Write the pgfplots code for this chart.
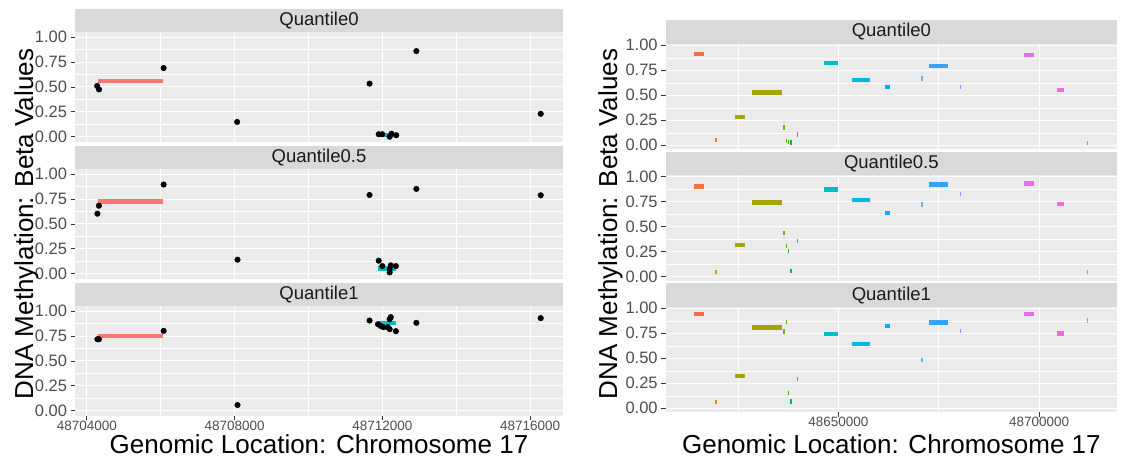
\documentclass[border=0pt]{standalone}
\usepackage{fontspec}
\setmainfont{Liberation Sans}
\usepackage{pgfplots}
\pgfplotsset{compat=1.18}

\definecolor{panelbg}{HTML}{EBEBEB}
\definecolor{stripbg}{HTML}{D9D9D9}
\definecolor{tickc}{HTML}{333333}
\definecolor{labc}{HTML}{4D4D4D}
\definecolor{stripc}{HTML}{1A1A1A}
\definecolor{segred}{HTML}{F8766D}
\definecolor{segcyan}{HTML}{00BFC4}
% right panel groups
\definecolor{c01}{HTML}{F2703F}
\definecolor{c02}{HTML}{D89000}
\definecolor{c03}{HTML}{A3A500}
\definecolor{c04}{HTML}{7CAE00}
\definecolor{c05}{HTML}{5DB300}
\definecolor{c06}{HTML}{39B600}
\definecolor{c07}{HTML}{00BA38}
\definecolor{c08}{HTML}{00C1A3}
\definecolor{c09}{HTML}{00BFC4}
\definecolor{c10}{HTML}{00B8E7}
\definecolor{c11}{HTML}{00ADFA}
\definecolor{c12}{HTML}{5CB6F8}
\definecolor{c13}{HTML}{35A2FF}
\definecolor{c14}{HTML}{9590FF}
\definecolor{c15}{HTML}{E76BF3}
\definecolor{c16}{HTML}{F564E3}
\definecolor{c17}{HTML}{FF64B0}

\pgfplotsset{
  facet/.style={
    scale only axis, anchor=south west,
    axis background/.style={fill=panelbg},
    axis line style={draw=none},
    grid=both,
    major grid style={white, line width=1.1pt},
    minor grid style={white, line width=0.55pt},
    tick align=outside, major tick length=4.5pt, minor tick length=0pt,
    tick style={tickc, line width=0.8pt},
    xtick pos=bottom, ytick pos=left,
    scaled x ticks=false, scaled y ticks=false,
    ytick={0,0.25,0.5,0.75,1},
    yticklabels={0.00,0.25,0.50,0.75,1.00},
    minor ytick={0.125,0.375,0.625,0.875},
    yticklabel style={font=\fontsize{16.5}{16.5}\selectfont, text=labc},
    xticklabel style={font=\fontsize{13.5}{13.5}\selectfont, text=labc, inner sep=0.5pt},
  },
  % left panel: x is position minus 48700000
  leftp/.style={facet, width=488pt, height=110pt,
    xmin=3680, xmax=16890, ymin=-0.053, ymax=1.052,
    xtick={4000,8000,12000,16000}, minor xtick={6000,10000,14000},
    xticklabels={48704000,48708000,48712000,48716000}},
  % right panel: x is position minus 48600000
  rightp/.style={facet, width=451.3pt, height=105.5pt,
    xmin=7000, xmax=119400, ymin=-0.04, ymax=1.015,
    xtick={50000,100000}, minor xtick={25000,75000},
    xticklabels={48650000,48700000}},
  upper/.style={xticklabels={}, xtick style={draw=none}},
  dots/.style={only marks, mark=*, mark size=2.8pt, black},
}
\newcommand\seg[4]{\addplot[#1, line width=4.3pt] coordinates {(#2,#4) (#3,#4)};}
\newcommand\strip[5]{%
  \fill[stripbg] (#1,#3) rectangle (#2,#4);
  \node[text=stripc, font=\fontsize{18.5}{18.5}\selectfont] at ({(#1+#2)/2},{(#3+#4)/2}) {#5};}

\begin{document}
\begin{tikzpicture}[x=1pt,y=1pt]
\useasboundingbox (0,0) rectangle (1126,457);

% ---------- left panel ----------
\begin{axis}[leftp, upper, at={(75pt,315pt)}]
\addplot[dots] coordinates {(4280,0.51) (4330,0.475) (6079,0.69) (8069,0.148)
  (11653,0.533) (12921,0.86) (16287,0.23) (11901,0.025) (11998,0.025)
  (12198,0.0) (12248,0.03) (12376,0.015)};
\addplot[segred, line width=4.4pt] coordinates {(4307,0.56) (6069,0.56)};
\addplot[segcyan, line width=4.4pt] coordinates {(11881,0.02) (12376,0.02)};
\end{axis}

\begin{axis}[leftp, upper, at={(75pt,178pt)}]
\addplot[dots] coordinates {(4287,0.603) (4327,0.683) (6079,0.896) (8079,0.141)
  (11653,0.791) (12921,0.852) (16287,0.788) (11901,0.131) (11998,0.077)
  (12198,0.013) (12228,0.084) (12366,0.077) (12198,0.044)};
\addplot[segred, line width=4.4pt] coordinates {(4307,0.727) (6069,0.727)};
\addplot[segcyan, line width=4.4pt] coordinates {(11881,0.054) (12376,0.054)};
\end{axis}

\begin{axis}[leftp, at={(75pt,41pt)}]
\addplot[dots] coordinates {(4287,0.718) (4327,0.718) (6079,0.802) (8079,0.057)
  (11653,0.906) (11881,0.869) (11950,0.852) (12030,0.839) (12148,0.839)
  (12198,0.919) (12228,0.94) (12198,0.819) (12366,0.799) (12921,0.883)
  (16287,0.93)};
\addplot[segred, line width=4.4pt] coordinates {(4307,0.752) (6069,0.752)};
\addplot[segcyan, line width=4.4pt] coordinates {(11901,0.879) (12376,0.879)};
\end{axis}

\strip{75}{563}{425}{448}{Quantile0}
\strip{75}{563}{288}{311}{Quantile0.5}
\strip{75}{563}{151}{174}{Quantile1}

% ---------- right panel ----------
\begin{axis}[rightp, upper, at={(665.7pt,307.7pt)}]
\seg{c01}{14125}{16434}{0.913}
\seg{c02}{19300}{19800}{0.053}
\seg{c03}{24248}{26646}{0.28}
\seg{c03}{28510}{35881}{0.527}
\seg{c04}{36300}{36700}{0.177}
\seg{c05}{36850}{37200}{0.045}
\seg{c06}{37350}{37800}{0.035}
\seg{c07}{38000}{38550}{0.027}
\seg{c08}{39600}{39950}{0.107}
\seg{c09}{46359}{50000}{0.823}
\seg{c10}{53286}{57992}{0.65}
\seg{c11}{61544}{62787}{0.583}
\seg{c12}{70700}{71050}{0.667}
\seg{c13}{72466}{77350}{0.79}
\seg{c14}{80350}{80550}{0.583}
\seg{c15}{96176}{98662}{0.9}
\seg{c16}{104346}{106122}{0.553}
\seg{c17}{111850}{112250}{0.02}
\end{axis}

\begin{axis}[rightp, upper, at={(665.7pt,176.2pt)}]
\seg{c01}{14125}{16434}{0.903}
\seg{c02}{19300}{19800}{0.047}
\seg{c03}{24248}{26646}{0.317}
\seg{c03}{28510}{35881}{0.743}
\seg{c04}{36300}{36700}{0.44}
\seg{c05}{36850}{37200}{0.307}
\seg{c06}{37350}{37800}{0.26}
\seg{c07}{38000}{38550}{0.06}
\seg{c08}{39600}{39950}{0.357}
\seg{c09}{46359}{50000}{0.873}
\seg{c10}{53286}{57992}{0.767}
\seg{c11}{61544}{62787}{0.64}
\seg{c12}{70700}{71050}{0.723}
\seg{c13}{72466}{77350}{0.923}
\seg{c14}{80350}{80550}{0.83}
\seg{c15}{96176}{98662}{0.933}
\seg{c16}{104346}{106122}{0.727}
\seg{c17}{111850}{112250}{0.05}
\end{axis}

\begin{axis}[rightp, at={(665.7pt,44.7pt)}]
\seg{c01}{14125}{16434}{0.943}
\seg{c02}{19300}{19800}{0.063}
\seg{c03}{24248}{26646}{0.323}
\seg{c03}{28510}{35881}{0.807}
\seg{c04}{36300}{36700}{0.767}
\seg{c05}{36850}{37200}{0.86}
\seg{c06}{37350}{37800}{0.15}
\seg{c07}{38000}{38550}{0.067}
\seg{c08}{39600}{39950}{0.293}
\seg{c09}{46359}{50000}{0.743}
\seg{c10}{53286}{57992}{0.64}
\seg{c11}{61544}{62787}{0.823}
\seg{c12}{70700}{71050}{0.48}
\seg{c13}{72466}{77350}{0.857}
\seg{c14}{80350}{80550}{0.77}
\seg{c15}{96176}{98662}{0.94}
\seg{c16}{104346}{106122}{0.747}
\seg{c17}{111850}{112250}{0.877}
\end{axis}

\strip{665.7}{1117}{413.2}{436.7}{Quantile0}
\strip{665.7}{1117}{281.7}{305.2}{Quantile0.5}
\strip{665.7}{1117}{150.2}{173.7}{Quantile1}

% ---------- axis titles ----------
\tikzset{atitle/.style={inner sep=0pt, font=\fontsize{26}{26}\selectfont}}
\node[atitle, rotate=90, anchor=base] at (33,233) {DNA Methylation: Beta Values};
\node[atitle, rotate=90, anchor=base] at (617,233) {DNA Methylation: Beta Values};
\node[atitle, anchor=base] at (319,3.5) {Genomic Location: Chromosome 17};
\node[atitle, anchor=base] at (891.4,3.5) {Genomic Location: Chromosome 17};
\end{tikzpicture}
\end{document}
